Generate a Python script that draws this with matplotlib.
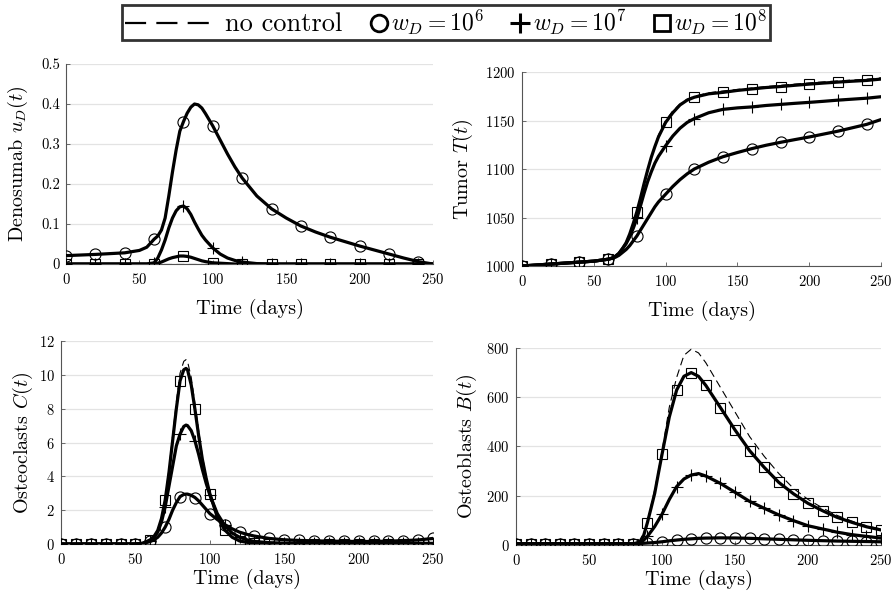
import numpy as np
import matplotlib
matplotlib.use("Agg")
import matplotlib.pyplot as plt
from matplotlib.lines import Line2D
from matplotlib.legend_handler import HandlerLine2D

plt.rcParams["font.family"] = "serif"
plt.rcParams["font.serif"] = ["cmr10"]
plt.rcParams["mathtext.fontset"] = "cm"
plt.rcParams["axes.formatter.use_mathtext"] = True

# ---- data ----
# top row time grid (markers every 20 days)
t_top = [0, 20, 40, 50, 55, 60, 62.5, 65, 67.5, 70, 72.5, 75, 77.5, 80, 82.5, 85, 87.5, 90,
         92.5, 95, 100, 105, 110, 115, 120, 130, 140, 150, 160, 170, 180, 190, 200, 210, 220,
         230, 240, 250]

ud_none = [0.0] * len(t_top)
ud_w6 = [0.021, 0.024, 0.028, 0.034, 0.042, 0.062, 0.07, 0.085, 0.115, 0.17, 0.23, 0.285,
         0.332, 0.356, 0.377, 0.392, 0.40, 0.398, 0.39, 0.376, 0.345, 0.31, 0.275, 0.243,
         0.215, 0.17, 0.138, 0.115, 0.095, 0.08, 0.067, 0.056, 0.045, 0.035, 0.025, 0.015,
         0.006, 0.0]
ud_w7 = [0.0, 0.0, 0.0, 0.0, 0.0, 0.003, 0.015, 0.035, 0.06, 0.09, 0.115, 0.133, 0.143,
         0.145, 0.138, 0.124, 0.105, 0.088, 0.072, 0.06, 0.04, 0.025, 0.015, 0.009, 0.005,
         0.001, 0.0, 0.0, 0.0, 0.0, 0.0, 0.0, 0.0, 0.0, 0.0, 0.0, 0.0, 0.0]
ud_w8 = [0.0, 0.0, 0.0, 0.0, 0.0, 0.0, 0.002, 0.005, 0.009, 0.013, 0.016, 0.018, 0.02, 0.02,
         0.019, 0.017, 0.014, 0.011, 0.008, 0.006, 0.003, 0.002, 0.001, 0.0, 0.0, 0.0, 0.0,
         0.0, 0.0, 0.0, 0.0, 0.0, 0.0, 0.0, 0.0, 0.0, 0.0, 0.0]

T_none = [1000, 1002, 1004, 1005, 1006, 1007, 1008, 1010, 1013, 1018, 1024, 1033, 1044, 1057,
          1071, 1086, 1100, 1113, 1124, 1135, 1150, 1160, 1167, 1172, 1175, 1178.5, 1180.5,
          1182, 1183.5, 1185, 1186.3, 1187.5, 1188.7, 1189.8, 1190.8, 1191.7, 1192.6, 1194]
T_w6 = [1000, 1002, 1004, 1005, 1006, 1007, 1008, 1009, 1011, 1014, 1017, 1021, 1026, 1031,
        1037, 1043, 1049, 1055, 1061, 1066, 1074, 1082, 1089, 1095, 1100, 1107, 1112.7, 1117,
        1121, 1124.5, 1127.5, 1130.3, 1133, 1136, 1139, 1142.5, 1146, 1151]
T_w7 = [1000, 1002, 1004, 1005, 1006, 1007, 1008, 1010, 1013, 1018, 1023, 1030, 1039, 1049,
        1062, 1075, 1087, 1097, 1106, 1113, 1124, 1134, 1142, 1148, 1152, 1158, 1161.5, 1163,
        1164, 1165.5, 1166.6, 1167.7, 1168.7, 1169.8, 1171, 1172, 1173, 1174.5]
T_w8 = [1000, 1002, 1004, 1005, 1006, 1007, 1008, 1010, 1013, 1018, 1024, 1033, 1044, 1056,
        1070, 1085, 1099, 1112, 1123, 1133, 1148, 1158, 1166, 1171, 1174, 1177.5, 1179, 1181,
        1182.5, 1184, 1185, 1186.3, 1187.5, 1188.6, 1189.6, 1190.5, 1191.3, 1192.7]

# bottom row time grid (markers every 10 days)
t_bot = [0, 10, 20, 30, 40, 50, 55, 60, 62.5, 65, 67.5, 70, 72.5, 75, 77.5, 80, 82.5, 84, 85,
         87.5, 90, 92.5, 95, 97.5, 100, 105, 110, 115, 120, 125, 130, 140, 150, 160, 170, 180,
         190, 200, 210, 220, 230, 240, 250]

C_none = [0, 0, 0, 0, 0, 0, 0.05, 0.25, 0.47, 0.85, 1.55, 2.7, 4.4, 6.4, 8.4, 10.1, 10.8, 10.9,
          10.8, 9.85, 8.3, 6.7, 5.2, 4.0, 3.05, 1.65, 0.85, 0.4, 0.18, 0.1, 0.05, 0.03, 0.02,
          0.02, 0.02, 0.02, 0.02, 0.02, 0.02, 0.02, 0.02, 0.02, 0.02]
C_w6 = [0, 0, 0, 0, 0, 0, 0.03, 0.15, 0.25, 0.4, 0.65, 1.0, 1.45, 2.0, 2.45, 2.8, 2.93, 2.95,
        2.95, 2.88, 2.75, 2.55, 2.3, 2.05, 1.8, 1.45, 1.15, 0.9, 0.7, 0.57, 0.47, 0.33, 0.25,
        0.21, 0.19, 0.17, 0.16, 0.15, 0.15, 0.17, 0.2, 0.24, 0.33]
C_w7 = [0, 0, 0, 0, 0, 0, 0.04, 0.2, 0.4, 0.7, 1.3, 2.2, 3.4, 4.6, 5.8, 6.5, 6.95, 7.03, 7.0,
        6.7, 6.1, 5.3, 4.4, 3.6, 2.9, 1.8, 1.1, 0.65, 0.4, 0.25, 0.15, 0.08, 0.05, 0.04, 0.04,
        0.04, 0.04, 0.04, 0.04, 0.04, 0.04, 0.04, 0.04]
C_w8 = [0, 0, 0, 0, 0, 0, 0.05, 0.25, 0.45, 0.8, 1.5, 2.6, 4.2, 6.1, 8.0, 9.65, 10.3, 10.38,
        10.3, 9.4, 7.96, 6.4, 5.0, 3.9, 2.97, 1.6, 0.83, 0.4, 0.18, 0.1, 0.05, 0.03, 0.02,
        0.02, 0.02, 0.02, 0.02, 0.02, 0.02, 0.02, 0.02, 0.02, 0.02]

B_none = [5, 5, 5, 5, 5, 5, 5, 5, 5, 5, 5, 5, 5, 5, 5, 5, 8, 12, 16, 45, 95, 160, 225, 300,
          380, 560, 680, 770, 795, 780, 740, 640, 540, 440, 360, 290, 230, 185, 150, 120, 97,
          78, 64]
B_w6 = [5, 5, 5, 5, 5, 5, 5, 5, 5, 5, 5, 5, 5, 5, 5, 5, 5.5, 6, 6, 7, 8, 9, 10, 11.5, 13, 17,
        20, 23, 25, 27, 28, 29, 28.5, 27, 25, 23, 21, 19, 17.5, 16, 15, 14, 13]
B_w7 = [5, 5, 5, 5, 5, 5, 5, 5, 5, 5, 5, 5, 5, 5, 5, 5, 6, 8, 10, 20, 35, 55, 75, 100, 125,
        185, 237, 268, 284, 290, 280, 250, 214, 177, 149, 122, 99, 78, 65, 52, 42, 35, 28]
B_w8 = [5, 5, 5, 5, 5, 5, 5, 5, 5, 5, 5, 5, 5, 5, 5, 5, 8, 12, 15, 40, 91, 150, 210, 290,
        368, 520, 629, 685, 700, 685, 648, 558, 467, 383, 315, 254, 208, 169, 139, 112, 92,
        74, 61]

panels = [
    ("Denosumab $u_D(t)$", t_top, [ud_none, ud_w6, ud_w7, ud_w8], (0, 0.5), np.arange(0, 0.51, 0.1), 20, 240),
    ("Tumor $T(t)$", t_top, [T_none, T_w6, T_w7, T_w8], (1000, 1200), np.arange(1000, 1201, 50), 20, 240),
    ("Osteoclasts $C(t)$", t_bot, [C_none, C_w6, C_w7, C_w8], (0, 12), np.arange(0, 13, 2), 10, 250),
    ("Osteoblasts $B(t)$", t_bot, [B_none, B_w6, B_w7, B_w8], (0, 800), np.arange(0, 801, 200), 10, 250),
]

# axes rectangles (figure fraction) and label paddings (x, y)
rects = [
    [0.0737, 0.5607, 0.4096, 0.3328],
    [0.5826, 0.5574, 0.4007, 0.3228],
    [0.0681, 0.0948, 0.4152, 0.3378],
    [0.5759, 0.0932, 0.4074, 0.3278],
]
pads = [(8, 7.5), (8, 7.5), (1, 3), (1, 5.5)]

markers = ["o", "+", "s"]
msizes = [8, 9, 6.5]

fig = plt.figure(figsize=(8.96, 6.01), dpi=100)
for (ylabel, t, series, ylim, yticks, mstep, mlast), rect, (xpad, ypad) in zip(panels, rects, pads):
    ax = fig.add_axes(rect)
    t = np.array(t)
    mark_idx = [i for i, v in enumerate(t) if v % mstep == 0 and v <= mlast]
    ax.plot(t, series[0], color="black", lw=0.8, dashes=(7, 4), zorder=3)
    for vals, m, ms in zip(series[1:], markers, msizes):
        ax.plot(t, vals, color="black", lw=2.3, zorder=4, solid_joinstyle="round")
        ax.plot(t[mark_idx], np.array(vals)[mark_idx], ls="none", marker=m, ms=ms,
                mfc="none", mec="black", mew=0.8, zorder=5)
    ax.set_xlim(0, 250)
    ax.set_ylim(*ylim)
    ax.set_xticks(np.arange(0, 251, 50))
    ax.set_yticks(yticks)
    if ylim[1] == 0.5:
        ax.set_yticklabels(["0"] + [f"{v:.1f}" for v in yticks[1:]])
    ax.grid(axis="y", color="#e3e3e3", lw=0.9)
    ax.set_axisbelow(True)
    for s in ["top", "right"]:
        ax.spines[s].set_visible(False)
    for s in ["left", "bottom"]:
        ax.spines[s].set_color("#555555")
        ax.spines[s].set_linewidth(0.8)
    ax.tick_params(direction="in", length=3, width=0.6, colors="#555555", labelcolor="black",
                   labelsize=10.5)
    ax.tick_params(axis="x", pad=6)
    ax.tick_params(axis="y", pad=4.5)
    ax.set_xlabel("Time (days)", fontsize=14.5, labelpad=xpad)
    ax.set_ylabel(ylabel, fontsize=14.5, labelpad=ypad)


class WideHandler(HandlerLine2D):
    # long handle for the dashed entry only, with a little gap before its text
    def legend_artist(self, legend, orig_handle, fontsize, handlebox):
        handlebox.width = 4.1 * fontsize
        return super().legend_artist(legend, orig_handle, fontsize, handlebox)

    def create_artists(self, legend, orig_handle, xdescent, ydescent, width, height,
                       fontsize, trans):
        return super().create_artists(legend, orig_handle, xdescent, ydescent,
                                      width - 0.45 * fontsize, height, fontsize, trans)


handles = [
    Line2D([], [], color="black", lw=1.6, dashes=(9.5, 4.6)),
    Line2D([], [], ls="none", marker="o", ms=12, mfc="none", mec="black", mew=2),
    Line2D([], [], ls="none", marker="+", ms=14, mec="black", mew=2.2),
    Line2D([], [], ls="none", marker="s", ms=11, mfc="none", mec="black", mew=2),
]
labels = ["no control", "$w_D = 10^6$", "$w_D = 10^7$", "$w_D = 10^8$"]
leg = fig.legend(handles, labels, loc="upper center", bbox_to_anchor=(0.498, 0.992), ncol=4,
                 fontsize=17, frameon=True, fancybox=False, edgecolor="black",
                 handlelength=0.75, handletextpad=0.15, columnspacing=1.15, borderpad=0.12,
                 borderaxespad=0, handler_map={handles[0]: WideHandler()})
leg.get_frame().set_linewidth(2)
leg.get_texts()[0].set_fontsize(19)

fig.savefig("out.png", dpi=100)
